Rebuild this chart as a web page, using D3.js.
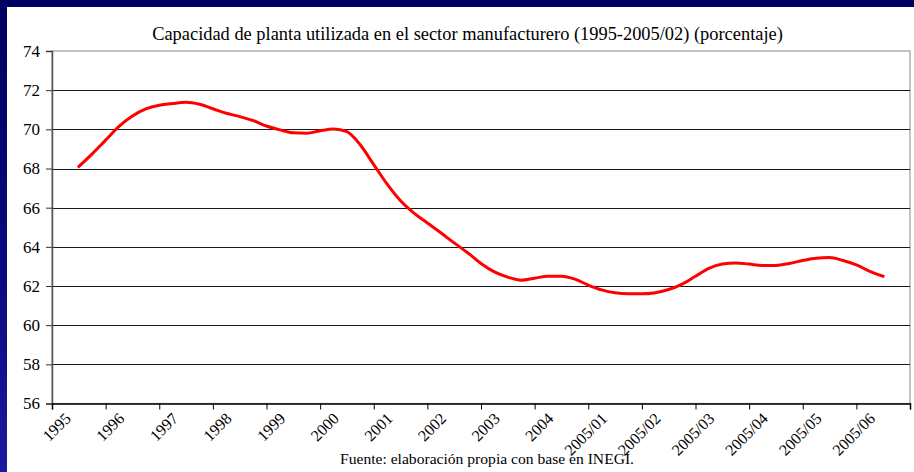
<!DOCTYPE html>
<html>
<head>
<meta charset="utf-8">
<script src="https://cdn.jsdelivr.net/npm/d3@7"></script>
<style>
  html, body { margin: 0; padding: 0; background: #000066; }
  svg { display: block; }
  svg text { font-family: 'Liberation Serif', 'DejaVu Serif', serif !important; fill: #000; }
</style>
</head>
<body>
<svg id="chart" width="914" height="472"></svg>
<script>
// ---- data ----
const title = "Capacidad de planta utilizada en el sector manufacturero (1995-2005/02) (porcentaje)";
const source = "Fuente: elaboración propia con base en INEGI.";
const categories = ["1995","1996","1997","1998","1999","2000","2001","2002","2003","2004",
                    "2005/01","2005/02","2005/03","2005/04","2005/05","2005/06"];
const yTicks = [56, 58, 60, 62, 64, 66, 68, 70, 72, 74];
// readings every quarter of a category step, from 1995 to 2005/06
const utilization = [
  68.10, 68.75, 69.45, 70.15,
  70.68, 71.04, 71.23, 71.32,
  71.38, 71.28, 71.05, 70.82,
  70.65, 70.45, 70.17, 69.97,
  69.82, 69.80, 69.93, 70.02,
  69.88, 69.20, 68.20, 67.20,
  66.35, 65.72, 65.22, 64.72,
  64.20, 63.70, 63.15, 62.72,
  62.45, 62.30, 62.40, 62.50,
  62.50, 62.35, 62.05, 61.80,
  61.65, 61.60, 61.60, 61.66,
  61.82, 62.10, 62.50, 62.90,
  63.12, 63.18, 63.12, 63.05,
  63.05, 63.15, 63.30, 63.42,
  63.45, 63.30, 63.08, 62.75,
  62.50
];

// ---- layout ----
const FONT = "'Liberation Serif', 'DejaVu Serif', serif";
const svg = d3.select("#chart");
const W = 914, H = 472;
const plot = { left: 52, right: 910, top: 51, bottom: 403.5 };

const defs = svg.append("defs");
const grad = defs.append("linearGradient").attr("id", "bg")
  .attr("x1", "0").attr("y1", "0").attr("x2", "0").attr("y2", "1");
grad.append("stop").attr("offset", "0").attr("stop-color", "#000060");
grad.append("stop").attr("offset", "0.6").attr("stop-color", "#0a0a80");
grad.append("stop").attr("offset", "1").attr("stop-color", "#1a1aa0");
svg.append("rect").attr("width", W).attr("height", H).attr("fill", "url(#bg)");
svg.append("rect").attr("x", 7).attr("y", 7).attr("width", W - 7).attr("height", H - 7).attr("fill", "#fff");

const xBand = d3.scaleBand().domain(categories).range([plot.left, plot.right]).paddingInner(0).paddingOuter(0);
const xPos = d3.scaleLinear().domain([-0.5, categories.length - 0.5]).range([plot.left, plot.right]);
const y = d3.scaleLinear().domain([56, 74]).range([plot.bottom, plot.top]);

// plot border
svg.append("rect")
  .attr("x", plot.left).attr("y", plot.top)
  .attr("width", plot.right - plot.left).attr("height", plot.bottom - plot.top)
  .attr("fill", "none").attr("stroke", "#9a9a9a").attr("stroke-width", 1.2);

// gridlines
svg.append("g").selectAll("line")
  .data(yTicks.filter(v => v > 56 && v < 74))
  .join("line")
  .attr("x1", plot.left).attr("x2", plot.right)
  .attr("y1", d => Math.round(y(d)) + 0.5).attr("y2", d => Math.round(y(d)) + 0.5)
  .attr("stroke", "#1a1a1a").attr("stroke-width", 1.2);

// y axis
const yAxis = svg.append("g").attr("transform", `translate(${plot.left},0)`)
  .call(d3.axisLeft(y).tickValues(yTicks).tickSize(6).tickPadding(6).tickFormat(d3.format("d")));
yAxis.attr("font-family", null);
yAxis.select(".domain").attr("stroke", "#555").attr("stroke-width", 1.5);
yAxis.selectAll(".tick line").attr("stroke", "#333");
yAxis.selectAll("text").style("font-family", FONT).style("font-size", "17px").attr("fill", "#000");

// x axis ticks at category boundaries
const xAxis = svg.append("g").attr("transform", `translate(0,${plot.bottom})`)
  .call(d3.axisBottom(xPos).tickValues(d3.range(-0.5, categories.length, 1)).tickSize(6).tickFormat(""));
xAxis.select(".domain").attr("stroke", "#000").attr("stroke-width", 1.5);
xAxis.selectAll(".tick line").attr("stroke", "#000");

// x labels rotated
svg.append("g").selectAll("text")
  .data(categories)
  .join("text")
  .attr("transform", d => `translate(${xBand(d) + xBand.bandwidth() / 2 - 7},${plot.bottom + 16}) rotate(-45)`)
  .attr("text-anchor", "end")
  .style("font-family", FONT)
  .style("font-size", "16px")
  .text(d => d);

// line
const line = d3.line()
  .x((d, i) => xPos(i / 4))
  .y(d => y(d))
  .curve(d3.curveMonotoneX);
svg.append("path")
  .datum(utilization)
  .attr("d", line)
  .attr("fill", "none")
  .attr("stroke", "#ff0000")
  .attr("stroke-width", 3)
  .attr("stroke-linejoin", "round")
  .attr("stroke-linecap", "round");

// title
svg.append("text")
  .attr("x", 467.5).attr("y", 40)
  .attr("text-anchor", "middle")
  .style("font-family", FONT)
  .style("font-size", "18.4px")
  .text(title);

// source
svg.append("text")
  .attr("x", 340).attr("y", 464)
  .style("font-family", FONT)
  .style("font-size", "15.6px")
  .text(source);
</script>
</body>
</html>
